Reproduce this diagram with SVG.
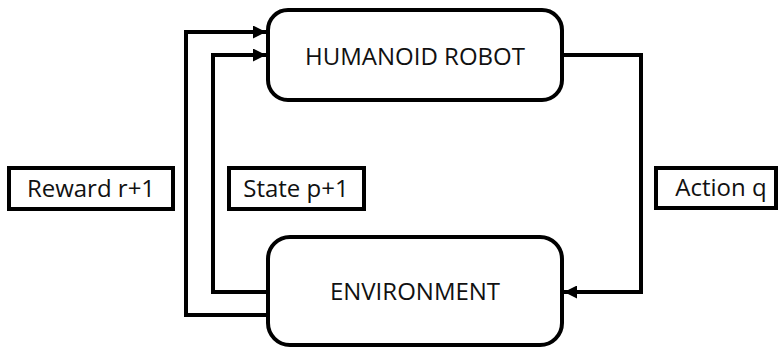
<svg xmlns="http://www.w3.org/2000/svg" width="779" height="350" viewBox="0 0 779 350">
<style>
.node{fill:#fff;stroke:#000;stroke-width:4}
.lbl{fill:#fff;stroke:#000;stroke-width:4}
.t{font-family:"Open Sans","Liberation Sans",sans-serif;font-size:24px;fill:#111;text-anchor:middle}
.c{fill:none;stroke:#000;stroke-width:4;stroke-linejoin:miter}
</style>
<defs>
<marker id="ah" markerWidth="13" markerHeight="13" viewBox="0 0 13 13" refX="13" refY="6.5" orient="auto" markerUnits="userSpaceOnUse">
<path d="M0,0 L13,6.5 L0,13 Z" fill="#000"/>
</marker>
</defs>
<g id="connectors">
<path class="c" d="M268,315 H186 V32 H266" marker-end="url(#ah)"/>
<path class="c" d="M268,292 H213 V55 H266" marker-end="url(#ah)"/>
<path class="c" d="M562,55 H641 V292 H564" marker-end="url(#ah)"/>
</g>
<g id="robot">
<rect class="node" x="268" y="10" width="294" height="90" rx="20"/>
<text class="t" x="415" y="65">HUMANOID ROBOT</text>
</g>
<g id="environment">
<rect class="node" x="268" y="237" width="294" height="108" rx="22"/>
<text class="t" x="415" y="300">ENVIRONMENT</text>
</g>
<g id="reward">
<rect class="lbl" x="9" y="168" width="164" height="41"/>
<text class="t" x="91" y="197">Reward r+1</text>
</g>
<g id="state">
<rect class="lbl" x="229" y="168" width="135" height="41"/>
<text class="t" x="296" y="197">State p+1</text>
</g>
<g id="action">
<rect class="lbl" x="656" y="168" width="120" height="40"/>
<text class="t" x="721" y="196">Action q</text>
</g>
</svg>
